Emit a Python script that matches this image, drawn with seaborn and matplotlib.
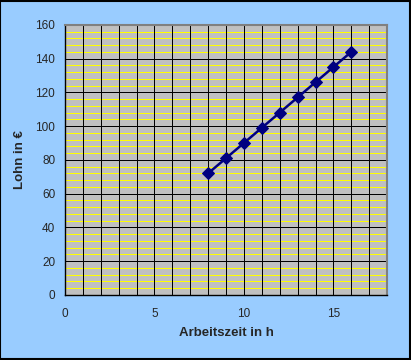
import matplotlib
matplotlib.use("Agg")
import matplotlib.pyplot as plt
import seaborn as sns
import pandas as pd
import numpy as np
from matplotlib.patches import Rectangle

# data
hours = [8, 9, 10, 11, 12, 13, 14, 15, 16]
wage = [72, 81, 90, 99, 108, 117, 126, 135, 144]
x_ticks = [0, 5, 10, 15]
y_ticks = [0, 20, 40, 60, 80, 100, 120, 140, 160]

df = pd.DataFrame({"Arbeitszeit": hours, "Lohn": wage})

sns.set_style("white")
plt.rcParams['font.family'] = ['Liberation Sans', 'DejaVu Sans']

fig = plt.figure(figsize=(4.11, 3.6), dpi=100)
fig.patch.set_facecolor("#99CCFF")
ax = fig.add_axes([0.158, 0.181, 0.784, 0.750])
ax.set_facecolor("#C0C0C0")

# gridlines: yellow minor horizontals, black majors, black verticals every 1
for yv in np.arange(4, 160, 4):
    if yv % 20 != 0:
        ax.axhline(yv, color="#FFFF00", lw=0.72, zorder=1, antialiased=False)
for yv in y_ticks[1:-1]:
    ax.axhline(yv, color="black", lw=0.72, zorder=1.5, antialiased=False)
for xv in range(1, 18):
    ax.axvline(xv, color="black", lw=0.72, zorder=1.5, antialiased=False)

sns.lineplot(data=df, x="Arbeitszeit", y="Lohn", ax=ax, color="#000080",
             marker="D", markersize=6.5, markeredgecolor="#000080", lw=1.8, zorder=3)

ax.set_xlim(0, 18)
ax.set_ylim(0, 160)
ax.set_xticks(x_ticks)
ax.set_yticks(y_ticks)
ax.tick_params(axis="both", direction="out", length=4.5, width=1, color="black",
               labelsize=8.5, pad=2.5)
ax.tick_params(axis="x", pad=5)
ax.set_xlabel("Arbeitszeit in h", fontsize=9.5, fontweight="bold", labelpad=5)
ax.set_ylabel("Lohn in €", fontsize=9.5, fontweight="bold", labelpad=7)

for side in ["left", "bottom"]:
    ax.spines[side].set_color("black")
    ax.spines[side].set_linewidth(1)
for side in ["top", "right"]:
    ax.spines[side].set_color("#808080")
    ax.spines[side].set_linewidth(1.5)

fig.patches.append(Rectangle((0.001, 0.002), 0.996, 0.995, transform=fig.transFigure,
                             fill=False, edgecolor="black", lw=1.5))

fig.savefig("out.png", dpi=100, facecolor=fig.get_facecolor())
